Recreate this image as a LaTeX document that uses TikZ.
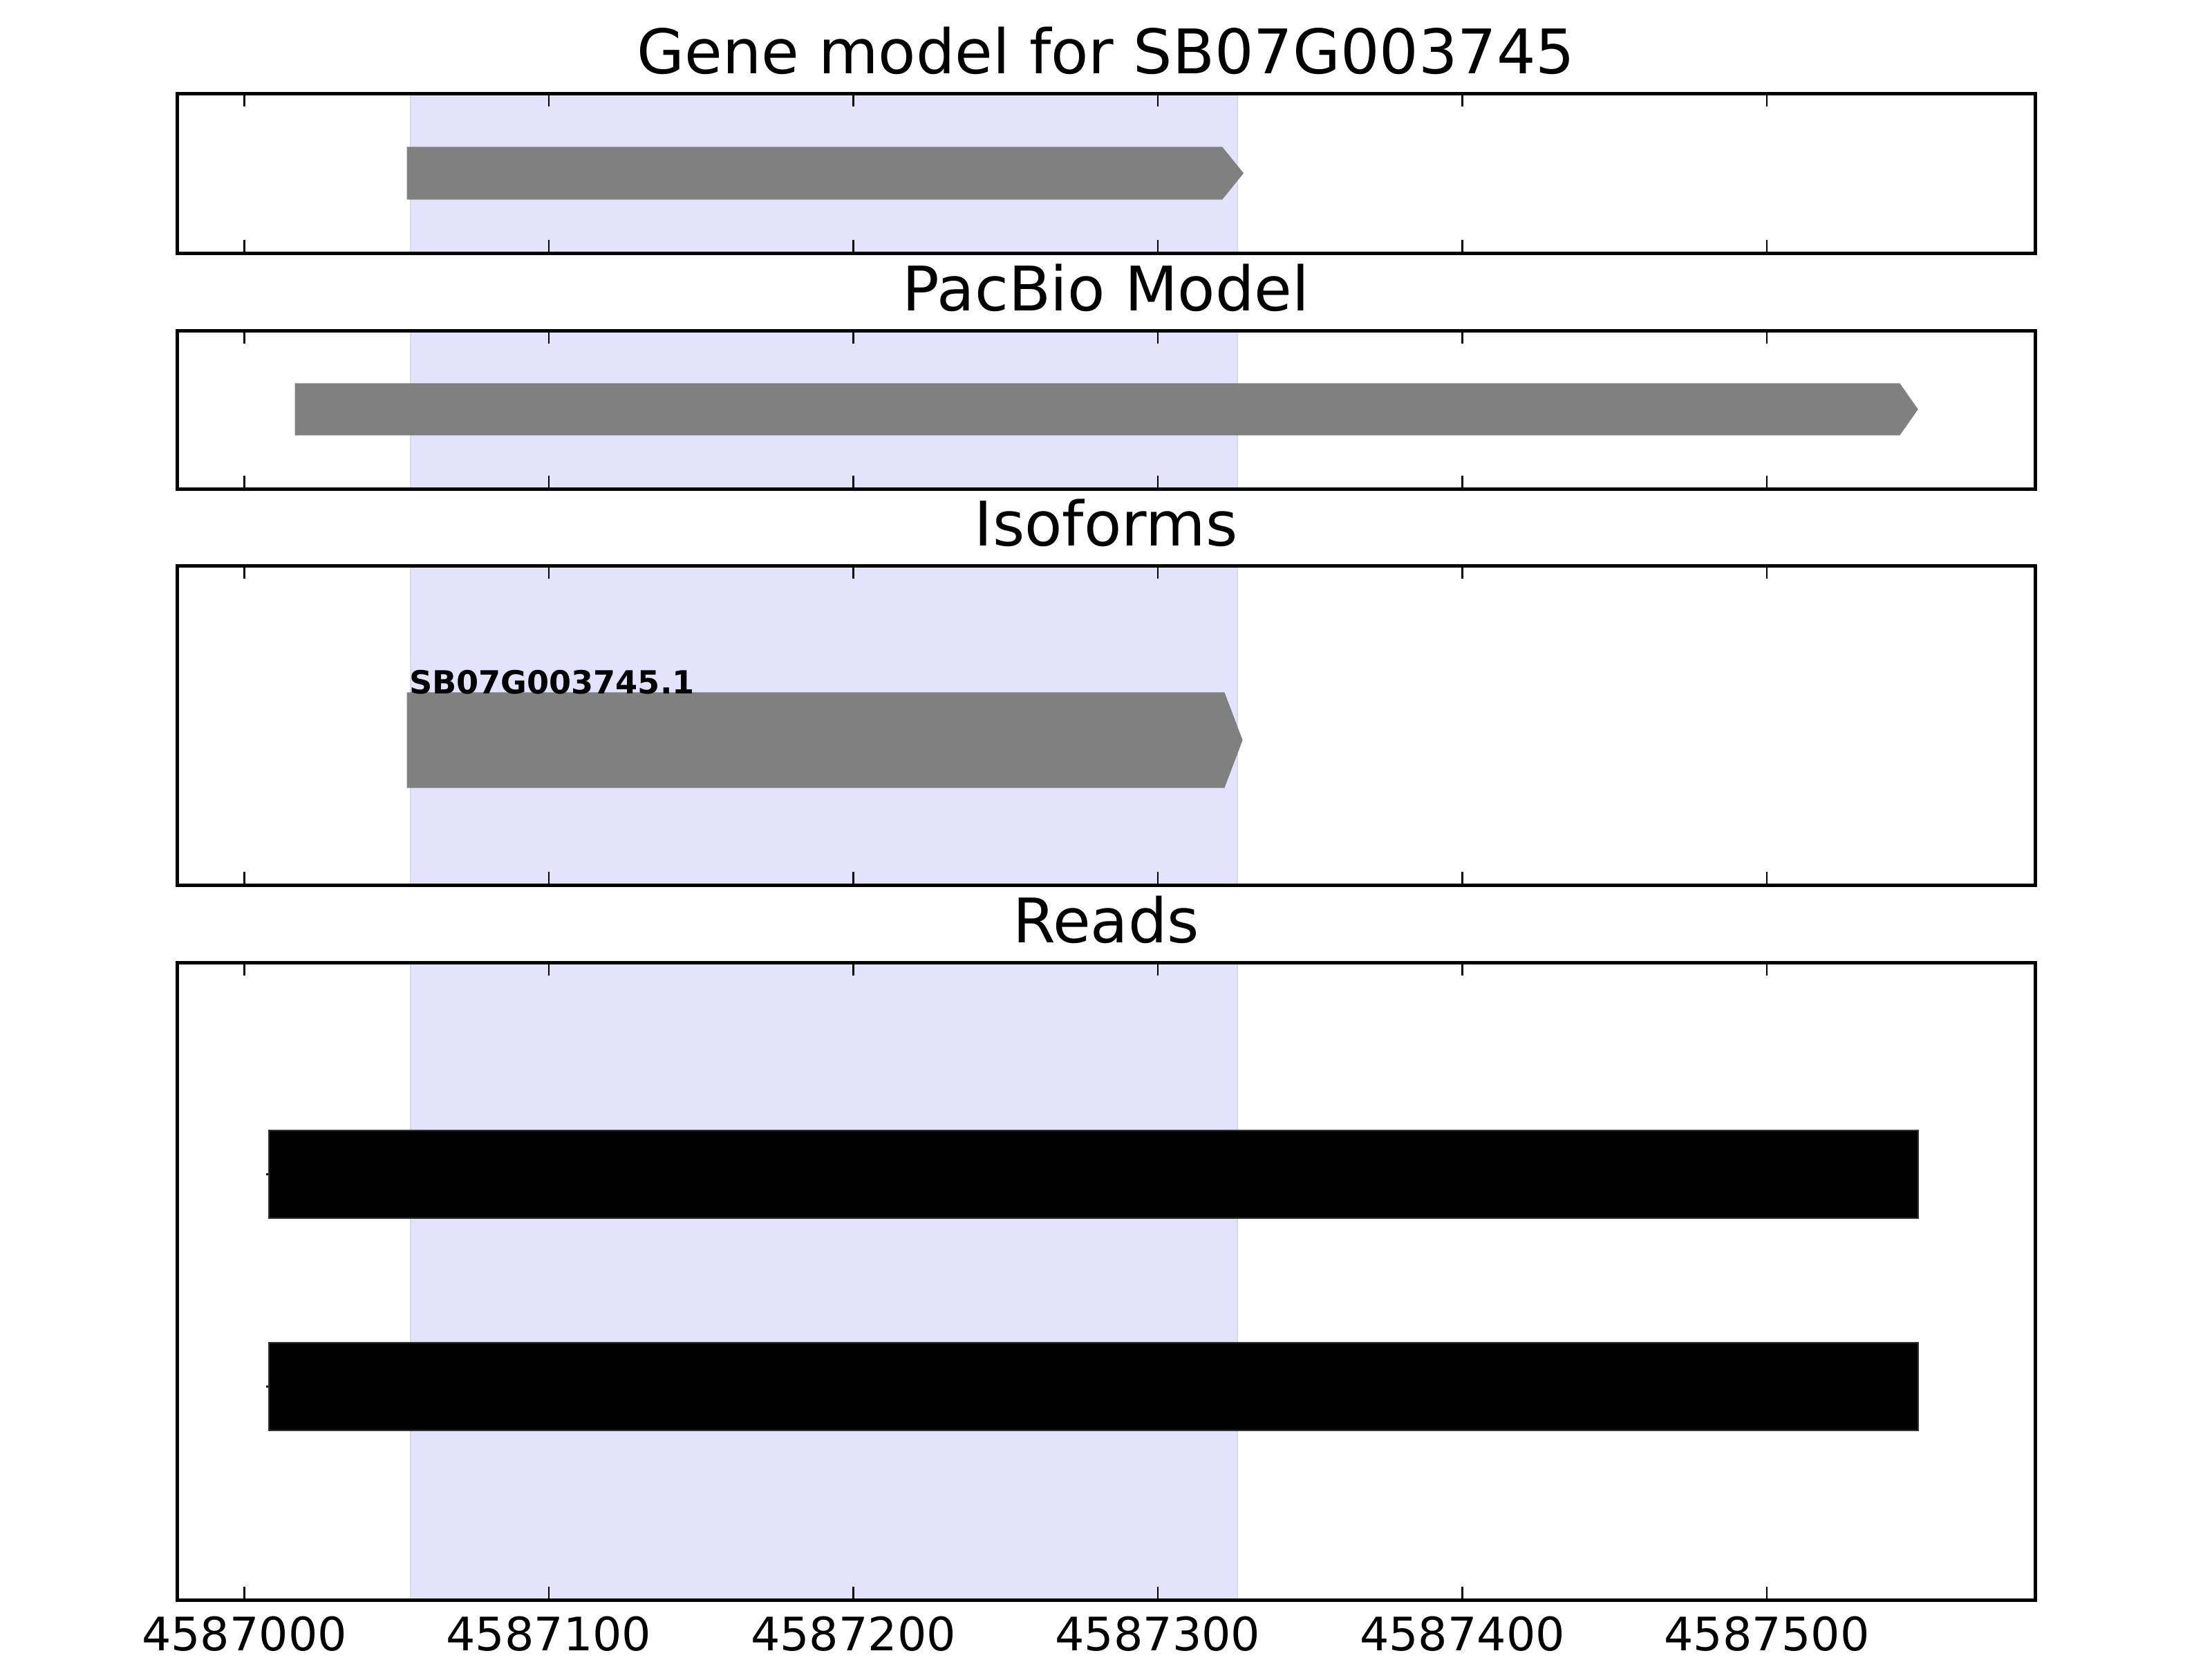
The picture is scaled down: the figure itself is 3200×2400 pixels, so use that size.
\documentclass[tikz,border=0pt]{standalone}
\usepackage{fontspec}
\setmainfont{DejaVu Sans}
\usepackage{tikz}
\definecolor{spanblue}{RGB}{227,227,253}
\definecolor{spanedge}{RGB}{216,216,240}
\definecolor{modelgray}{RGB}{128,128,128}
\definecolor{readedge}{RGB}{51,51,51}

% genomic offset from 4587000 -> pixel column
\newcommand{\gpos}[1]{353.5+4.405*(#1)}

\tikzset{
  panel/.style={draw=black, line width=0.9pt},
  tickmark/.style={draw=black, line width=0.5pt},
  paneltitle/.style={anchor=base, inner sep=0pt, font=\fontsize{16}{19}\selectfont},
  ticklabel/.style={anchor=base, inner sep=0pt, font=\fontsize{12}{14}\selectfont},
  isolabel/.style={anchor=base west, inner sep=0pt, font=\bfseries\fontsize{8.3}{10}\selectfont},
  modelbar/.style={fill=modelgray, draw=modelgray, line width=0.2pt},
  readbar/.style={fill=black, draw=readedge, line width=0.4pt}
}

\begin{document}
\begin{tikzpicture}[x=0.18pt, y=-0.18pt]
  \useasboundingbox (0,0) rectangle (3200,2400);

  % highlighted span in every panel
  \foreach \top/\bot in {135/366, 478/707, 818/1280, 1392/2314} {
    \fill[spanblue] ({\gpos{54.6}},\top) rectangle ({\gpos{326.1}},\bot);
    \draw[spanedge, line width=0.5pt] ({\gpos{54.6}},\top) -- ({\gpos{54.6}},\bot);
    \draw[spanedge, line width=0.5pt] ({\gpos{326.1}},\top) -- ({\gpos{326.1}},\bot);
  }

  % gene model
  \filldraw[modelbar] ({\gpos{53.5}},213) -- ({\gpos{321.1}},213) -- ({\gpos{328}},250.5)
    -- ({\gpos{321.1}},288) -- ({\gpos{53.5}},288) -- cycle;
  % pacbio model
  \filldraw[modelbar] ({\gpos{16.7}},555) -- ({\gpos{543.6}},555) -- ({\gpos{549.5}},592)
    -- ({\gpos{543.6}},629) -- ({\gpos{16.7}},629) -- cycle;
  % isoform
  \filldraw[modelbar] ({\gpos{53.5}},1002) -- ({\gpos{321.8}},1002) -- ({\gpos{327.7}},1070.5)
    -- ({\gpos{321.8}},1139) -- ({\gpos{53.5}},1139) -- cycle;
  \node[isolabel] (isoname) at (591,1003) {SB07G003745.1};

  % reads
  \foreach \top/\mid/\bot in {1635/1698.5/1762, 1942/2005.5/2069} {
    \draw[black, line width=0.6pt] (385,\mid) -- ({\gpos{8}},\mid);
    \filldraw[readbar] ({\gpos{8}},\top) rectangle ({\gpos{549.7}},\bot);
  }

  % frames and ticks
  \foreach \top/\bot in {135/366, 478/707, 818/1280, 1392/2314} {
    \foreach \k in {0,...,5} {
      \draw[tickmark] ({\gpos{100*\k}},\top) -- ++(0,19);
      \draw[tickmark] ({\gpos{100*\k}},\bot) -- ++(0,-19);
    }
    \draw[panel] (256,\top) rectangle (2944,\bot);
  }

  \node[paneltitle] (genetitle) at (1600,106) {Gene model for SB07G003745};
  \node[paneltitle] (pacbiotitle) at (1600,449) {PacBio Model};
  \node[paneltitle] (isotitle) at (1600,789) {Isoforms};
  \node[paneltitle] (readstitle) at (1600,1363) {Reads};

  \foreach \k in {0,...,5}
    \node[ticklabel] (xlabel\k) at ({\gpos{100*\k}},2387) {4587\k00};
\end{tikzpicture}
\end{document}
